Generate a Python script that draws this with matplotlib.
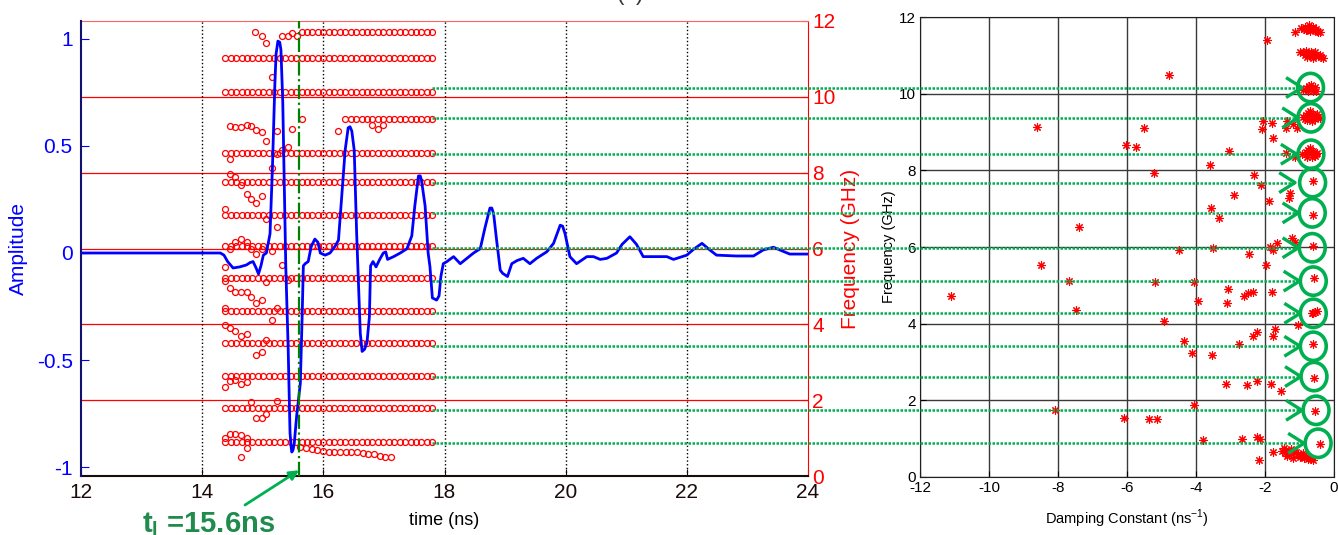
import numpy as np
import matplotlib
matplotlib.use("Agg")
import matplotlib.pyplot as plt
from matplotlib.patches import Ellipse

plt.rcParams['font.family'] = ['Liberation Sans', 'DejaVu Sans']
plt.rcParams['axes.unicode_minus'] = False
plt.rcParams['mathtext.fontset'] = 'custom'
plt.rcParams['mathtext.rm'] = 'Liberation Sans'
plt.rcParams['mathtext.bf'] = 'Liberation Sans:bold'

# ---- time-domain response (ns, normalised amplitude)
sig_t = [12.00, 14.30, 14.36, 14.42, 14.51, 14.62, 14.73, 14.79, 14.84, 14.89, 14.93, 14.97,
         15.01, 15.06, 15.12, 15.16, 15.20, 15.22, 15.25, 15.28, 15.30, 15.33, 15.35, 15.38,
         15.42, 15.45, 15.47, 15.48, 15.50, 15.52, 15.56, 15.62, 15.65, 15.67, 15.70, 15.75,
         15.80, 15.86, 15.91, 15.95,
         16.03, 16.11, 16.19, 16.25, 16.30, 16.36, 16.41, 16.44, 16.47, 16.51, 16.55, 16.58,
         16.61, 16.64, 16.68, 16.72, 16.76, 16.78, 16.82, 16.87, 16.93, 16.99, 17.03, 17.06,
         17.16, 17.27, 17.38, 17.46, 17.51, 17.57, 17.60, 17.62, 17.68, 17.73, 17.76, 17.80,
         17.87, 17.91, 17.94, 17.98, 18.04, 18.15, 18.26, 18.37, 18.48, 18.59, 18.67, 18.75,
         18.78, 18.81, 18.86, 18.92, 18.96, 19.04, 19.11, 19.20, 19.30, 19.41, 19.52, 19.69,
         19.80, 19.91, 19.95, 19.99, 20.07, 20.18, 20.35, 20.46, 20.57, 20.68, 20.84, 20.93,
         21.06, 21.17, 21.28, 21.39, 21.67, 21.78, 22.00, 22.11, 22.25, 22.38, 22.49, 22.82,
         23.10, 23.26, 23.43, 23.57, 23.70, 24.00]
sig_a = [0.0, 0.0, -0.01, -0.04, -0.07, -0.065, -0.056, -0.045, -0.04, -0.07, -0.098, -0.06,
         -0.01, 0.0, 0.09, 0.40, 0.79, 0.93, 0.99, 0.985, 0.95, 0.71, 0.40, -0.06,
         -0.45, -0.84, -0.91, -0.93, -0.92, -0.89, -0.76, -0.61, -0.30, -0.06, -0.05, -0.04,
         0.03, 0.065, 0.05, 0.0,
         -0.01, 0.0, 0.03, 0.06, 0.25, 0.48, 0.585, 0.59, 0.57, 0.48, 0.09, -0.14,
         -0.375, -0.46, -0.45, -0.42, -0.30, -0.06, -0.04, -0.065, -0.03, 0.0, 0.005, -0.03,
         -0.017, 0.0, 0.02, 0.08, 0.22, 0.36, 0.36, 0.34, 0.22, 0.0, -0.064, -0.21,
         -0.22, -0.20, -0.11, -0.05, -0.04, -0.017, -0.05, -0.025, 0.0, 0.02, 0.12, 0.21,
         0.21, 0.185, 0.06, -0.08, -0.095, -0.11, -0.05, -0.035, -0.025, -0.05, -0.025, 0.006,
         0.045, 0.13, 0.125, 0.09, -0.017, -0.05, -0.017, -0.017, -0.03, -0.025, 0.0, 0.04,
         0.076, 0.04, -0.017, -0.017, -0.017, -0.03, -0.01, 0.017, 0.045, 0.014, -0.01, -0.014,
         -0.014, 0.014, 0.027, 0.01, -0.005, -0.005]

# ---- sliding-window pole frequencies (GHz)
win_t = [14.38, 14.47, 14.56, 14.65, 14.74, 14.83, 14.92, 15.01, 15.10, 15.19, 15.28, 15.37,
         15.46, 15.55, 15.64, 15.73, 15.82, 15.91, 16.00, 16.09, 16.18, 16.27, 16.36, 16.45,
         16.54, 16.63, 16.72, 16.81, 16.90, 16.99, 17.08, 17.17, 17.26, 17.35, 17.44, 17.53,
         17.62, 17.71, 17.80]
row_f = [11.70, 11.03, 10.13, 9.42, 8.53, 7.75, 6.88, 6.07, 5.23, 4.35, 3.51, 2.63, 1.79, 0.90]
row_start = [15.64, 14.38, 14.38, 16.36, 14.38, 14.38, 14.38, 14.38, 14.38, 14.38, 14.38,
             14.38, 14.38, 14.38]
out_t = [14.87, 14.98, 15.05, 15.32, 15.41, 15.48, 15.57, 15.15,
         14.46, 14.55, 14.64, 14.74, 14.81, 14.89, 14.98, 15.05, 15.23, 15.48, 15.65, 16.25,
         16.81, 16.90, 16.99,
         14.46, 15.15, 15.23, 15.32, 15.41,
         14.46, 14.55, 14.64, 14.74, 14.81, 14.89, 14.98,
         14.38, 15.05, 15.23,
         14.46, 14.55, 14.64, 14.74, 14.81, 14.89, 14.98, 15.15, 14.38, 15.32,
         14.38, 15.05, 15.41,
         14.38, 14.46, 14.55, 14.64, 14.74, 14.81, 14.89, 14.98, 15.23, 15.15,
         14.38, 14.46, 14.55, 14.64, 14.74, 15.05, 14.89, 14.98,
         14.38, 14.46, 14.55, 14.64, 14.74,
         14.81, 15.23, 14.89, 14.98, 15.05,
         14.38, 14.46, 14.55, 14.64, 14.74, 14.64, 14.74]
out_f = [11.70, 11.61, 11.41, 11.61, 11.61, 11.68, 11.61, 10.53,
         9.24, 9.20, 9.21, 9.27, 9.24, 9.12, 9.07, 8.83, 9.10, 9.14, 9.42, 9.10,
         9.27, 9.16, 9.27,
         8.36, 8.13, 8.50, 8.59, 8.68,
         7.96, 7.89, 7.67, 7.43, 7.30, 7.19, 7.38,
         7.03, 6.77, 6.57,
         5.98, 6.16, 6.24, 6.16, 6.00, 5.85, 6.00, 5.94, 5.52, 5.56,
         5.15, 5.11, 5.17,
         4.42, 4.95, 4.86, 4.86, 4.84, 4.73, 4.57, 4.64, 4.42, 4.11,
         3.98, 3.91, 3.82, 3.70, 3.74, 3.60, 3.19, 3.28,
         2.34, 2.50, 2.53, 2.42, 2.49,
         1.94, 1.98, 1.54, 1.54, 1.63,
         1.01, 1.11, 1.12, 1.08, 0.99, 0.49, 0.73]
tail_t = [15.62, 15.71, 15.81, 15.90, 16.00, 16.09, 16.18, 16.28, 16.37, 16.46, 16.56,
          16.65, 16.74, 16.84, 16.93, 17.02, 17.12]
tail_f = [0.77, 0.75, 0.71, 0.69, 0.66, 0.64, 0.63, 0.63, 0.63, 0.63, 0.63,
          0.61, 0.59, 0.57, 0.54, 0.51, 0.49]
t_late = 15.6

# ---- poles in the complex plane: damping (1/ns) vs frequency (GHz)
pole_f = [10.16, 9.37, 8.42, 7.68, 6.89, 5.98, 5.11, 4.27, 3.41, 2.62, 1.74, 0.88]
pole_d = [-0.68, -0.67, -0.67, -0.62, -0.63, -0.63, -0.60, -0.60, -0.60, -0.58, -0.52, -0.46]
tip_d = [-0.93, -1.04, -1.08, -1.13, -1.03, -1.03, -1.00, -0.98, -0.98, -0.96, -0.93, -0.87]
star_d = [-0.60, -0.60, -0.58, -0.60, -0.57, -0.54, -0.41, -0.60, -0.60, -0.55, -0.65, -0.50,
          -1.13, -0.95, -0.85, -0.78, -0.72, -0.66, -0.60, -0.55, -0.50, -0.45, -0.40, -0.80,
          -0.70, -0.62, -0.52, -0.88,
          -1.00, -0.90, -0.82, -0.75, -0.68, -0.60, -0.52, -0.45, -0.38, -0.32, -0.85, -0.70,
          -0.55, -0.42, -0.78, -0.62,
          -0.90, -0.80, -0.72, -0.65, -0.58, -0.52, -0.75, -0.62, -0.55, -0.68,
          -0.90, -0.82, -0.75, -0.68, -0.60, -0.52, -0.45, -0.40, -0.78, -0.64, -0.56, -0.70,
          -0.50, -0.85,
          -0.92, -0.82, -0.75, -0.68, -0.60, -0.52, -0.78, -0.64, -0.56, -0.70, -0.48,
          -1.50, -1.42, -1.38, -1.30, -1.25, -1.15, -1.05, -1.00, -0.95, -0.88, -0.80, -0.75,
          -0.70, -0.66, -0.62, -1.35, -1.20, -0.90, -1.45, -1.10]
star_f = [6.84, 6.03, 5.18, 3.46, 2.58, 1.73, 0.85, 7.71, 4.29, 4.30, 4.27, 4.32,
          11.61, 11.72, 11.75, 11.70, 11.78, 11.72, 11.70, 11.66, 11.64, 11.62, 11.60, 11.66,
          11.64, 11.74, 11.70, 11.68,
          11.08, 11.10, 11.12, 11.06, 11.10, 11.04, 11.00, 10.98, 10.95, 10.93, 11.00, 11.00,
          11.08, 11.02, 10.96, 10.94,
          10.10, 10.14, 10.20, 10.16, 10.12, 10.08, 10.06, 10.08, 10.18, 10.22,
          9.40, 9.45, 9.50, 9.42, 9.48, 9.40, 9.38, 9.36, 9.32, 9.30, 9.34, 9.55,
          9.46, 9.33,
          8.42, 8.48, 8.52, 8.44, 8.50, 8.42, 8.36, 8.34, 8.38, 8.58, 8.46,
          0.68, 0.62, 0.70, 0.58, 0.72, 0.66, 0.60, 0.52, 0.55, 0.50, 0.56, 0.48,
          0.50, 0.46, 0.44, 0.55, 0.50, 0.62, 0.75, 0.64]
scat_d = [-1.93, -4.77, -8.60, -5.50, -6.04, -5.73, -5.22, -3.03, -3.59, -2.31, -2.11, -2.91,
          -3.57, -3.32, -1.88, -1.28, -1.30, -7.39, -2.05, -1.81, -2.10, -1.78, -1.37, -1.39,
          -1.18, -1.08, -1.39, -1.13, -1.66, -1.86, -1.76, -1.23, -1.13, -4.48, -3.52, -2.47,
          -1.98, -8.49, -7.67, -11.11, -7.48, -5.20, -4.05, -3.93, -4.92, -3.08, -3.11, -2.61,
          -2.48, -2.34, -1.80, -4.34, -4.12, -3.54, -2.75, -2.34, -2.24, -1.71, -1.76, -1.05,
          -3.14, -2.51, -2.24, -1.83, -1.54, -4.05, -8.09, -6.09, -5.35, -5.12, -3.81, -2.68,
          -2.24, -2.14, -2.17, -1.76]
scat_f = [11.41, 10.50, 9.13, 9.10, 8.65, 8.60, 7.93, 8.51, 8.15, 7.88, 7.61, 7.36,
          7.02, 6.75, 7.19, 7.42, 7.27, 6.53, 9.28, 9.23, 9.08, 8.84, 9.28, 9.10,
          9.22, 9.10, 8.45, 8.36, 6.10, 6.01, 5.93, 6.23, 6.14, 5.91, 5.97, 5.82,
          5.52, 5.52, 5.12, 4.72, 4.36, 5.08, 5.08, 4.60, 4.07, 4.91, 4.53, 4.71,
          4.79, 4.82, 4.82, 3.56, 3.23, 3.17, 3.46, 3.68, 3.78, 3.86, 3.68, 3.97,
          2.42, 2.40, 2.51, 2.42, 2.25, 1.88, 1.75, 1.55, 1.51, 1.51, 0.97, 1.00,
          1.05, 1.00, 0.44, 0.66]

W, H = 1338, 535


def box(x0, y0, x1, y1):
    return [x0 / W, 1 - y1 / H, (x1 - x0) / W, (y1 - y0) / H]


fig = plt.figure(figsize=(W / 100, H / 100), dpi=100)
green = '#00b050'

# ---------- left: signal + sliding-window frequencies
axF = fig.add_axes(box(81, 21, 808, 476))
axF.set_xlim(12, 24)
axF.set_ylim(0, 12)
for f in [2, 4, 6, 8, 10]:
    axF.axhline(f, color='red', lw=0.9, zorder=1)
for t in [14, 16, 18, 20, 22]:
    axF.axvline(t, color='black', ls=':', lw=1.0, zorder=1)
for f, t0 in zip(row_f, row_start):
    tt = [t for t in win_t if t >= t0 - 1e-6]
    axF.plot(tt, [f] * len(tt), 'o', mfc='none', mec='red', ms=4.3, mew=0.9, zorder=2)
axF.plot(out_t, out_f, 'o', mfc='none', mec='red', ms=4.3, mew=0.9, zorder=2)
axF.plot(tail_t, tail_f, 'o', mfc='none', mec='red', ms=4.3, mew=0.9, zorder=2)
axF.yaxis.tick_right()
axF.yaxis.set_label_position('right')
axF.set_yticks(range(0, 13, 2))
axF.set_xticks(range(12, 25, 2))
axF.tick_params(axis='y', direction='in', colors='red', labelsize=15, length=5, pad=3)
axF.tick_params(axis='x', direction='in', colors='#1a0a0a', labelsize=15, length=5, pad=5)
axF.set_ylabel('Frequency (GHz)', color='red', fontsize=15, labelpad=4)
axF.set_xlabel('time (ns)', fontsize=13, labelpad=7)
axF.spines['right'].set_color('red')
axF.spines['top'].set_color('#ff6060')
axF.spines['left'].set_visible(False)
axF.spines['bottom'].set_color('#1a0a0a')
axF.spines['bottom'].set_linewidth(1.5)

axA = fig.add_axes(box(81, 21, 808, 476), facecolor='none')
axA.set_xlim(12, 24)
axA.set_ylim(-1.042, 1.084)
axA.plot(sig_t, sig_a, color='blue', lw=2.0, zorder=3)
axA.axvline(t_late, color='#008000', ls='-.', lw=1.6, zorder=4)
axA.set_xticks([])
axA.set_yticks([-1, -0.5, 0, 0.5, 1])
axA.set_yticklabels(['-1', '-0.5', '0', '0.5', '1'])
axA.tick_params(axis='y', direction='in', colors='blue', labelsize=15, length=6, pad=6)
axA.set_ylabel('Amplitude', color='blue', fontsize=15, labelpad=6)
for s in ['top', 'right', 'bottom']:
    axA.spines[s].set_visible(False)
axA.spines['left'].set_color('#101070')
axA.spines['left'].set_linewidth(1.5)

fig.text(142 / W, 3 / H, r't$_\mathbf{l}$ =15.6ns', color='#1f8b4c', fontsize=21,
         fontweight='bold', ha='left', va='baseline')
axA.annotate('', xy=(t_late, -1.015), xycoords='data',
             xytext=(245 / W, 1 - 505 / H), textcoords='figure fraction',
             arrowprops=dict(arrowstyle='-|>', color=green, lw=2, mutation_scale=14,
                             shrinkA=0, shrinkB=0))
fig.text(630 / W, 1.0, '(a)', ha='center', va='baseline', fontsize=16, color='#333333')

# ---------- right: damping constant vs frequency
axR = fig.add_axes(box(920, 17, 1334, 477))
axR.set_xlim(-12, 0)
axR.set_ylim(0, 12)
axR.set_xticks(range(-12, 1, 2))
axR.set_xticklabels([str(v) for v in range(-12, 1, 2)])
axR.set_yticks(range(0, 13, 2))
axR.grid(True, color='#3a3a3a', lw=1.0)
axR.set_axisbelow(True)
axR.tick_params(direction='in', labelsize=11, length=4, pad=3)
for s in axR.spines.values():
    s.set_color('#202020')
axR.set_ylabel('Frequency (GHz)', fontsize=10.5, labelpad=2)
axR.set_xlabel('Damping Constant (ns$^{-1}$)', fontsize=10.5, labelpad=9)
ast = (8, 2, 0)
axR.plot(scat_d, scat_f, ls='none', marker=ast, color='red', ms=6, mew=0.8, zorder=3)
axR.plot(star_d, star_f, ls='none', marker=ast, color='red', ms=6, mew=0.8, zorder=3)

# green guides from the window frequencies to the selected poles
x_from = -26.14
for f, c, tip in zip(pole_f, pole_d, tip_d):
    axR.plot([x_from, tip], [f, f], color=green, ls=(0, (1, 0.6)), lw=1.8,
             clip_on=False, zorder=5)
    axR.plot([tip - 0.46, tip, tip - 0.46], [f + 0.26, f, f - 0.26], color=green, lw=2.4,
             clip_on=False, zorder=5, solid_capstyle='butt')
    axR.add_patch(Ellipse((c, f), 0.75, 0.74, fill=False, ec=green, lw=2.6, zorder=6,
                          clip_on=False))

fig.savefig('out.png', dpi=100)
